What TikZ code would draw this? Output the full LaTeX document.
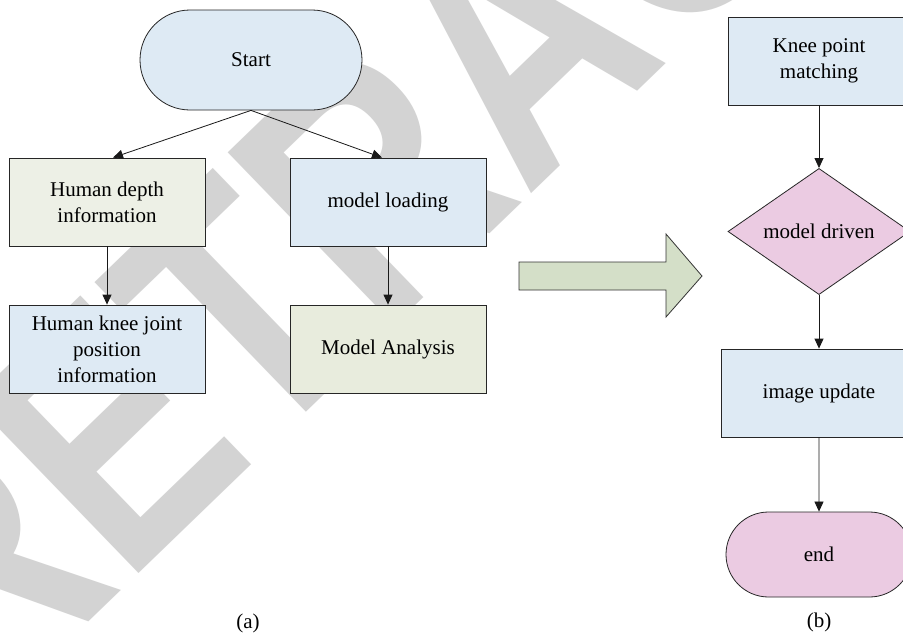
\documentclass[tikz,border=0pt]{standalone}
\usepackage{fontspec}
\setmainfont{Liberation Serif}
\newfontfamily\wmfont{Liberation Sans}
\usetikzlibrary{shapes.misc,shapes.geometric,arrows.meta}
\definecolor{boxblue}{HTML}{DEEAF4}
\definecolor{boxgreen}{HTML}{EDF0E6}
\definecolor{boxgreenb}{HTML}{E8ECDD}
\definecolor{boxpink}{HTML}{EBCBE2}
\definecolor{arrowgreen}{HTML}{D4DFC8}
\definecolor{wmgray}{HTML}{D3D3D3}
\tikzset{
  base/.style={draw=black!85,line width=0.8pt,inner sep=0pt,align=center,
    font=\fontsize{21}{26}\selectfont},
  procbox/.style={base,rectangle,minimum width=196pt,minimum height=88pt},
  termbox/.style={base,rounded rectangle,rounded rectangle arc length=180},
  decbox/.style={base,diamond,minimum width=182pt,minimum height=123pt},
  conn/.style={line width=0.8pt,draw=black!90,-{Triangle[length=10pt,width=9pt]}},
  caption/.style={inner sep=0pt,font=\fontsize{21}{26}\selectfont}
}
\begin{document}
\begin{tikzpicture}[x=1pt,y=-1pt]
\useasboundingbox (0,0) rectangle (903,635);
\clip (0,0) rectangle (903,635);
\fill[white] (0,0) rectangle (903,635);
% watermark
\node[text=wmgray,rotate=44,anchor=base west,inner sep=0pt] (wm) at (-20,727)
  {\scalebox{0.8}[1]{\wmfont\bfseries\fontsize{349}{349}\selectfont RETRACTED}};
% (a)
\node[termbox,fill=boxblue,minimum width=222pt,minimum height=100pt] (start) at (251,60) {Start};
\node[procbox,fill=boxgreen] (hd) at (107,202) {Human depth\\information};
\node[procbox,fill=boxblue] (ml) at (388,202) {model loading};
\node[procbox,fill=boxblue] (hk) at (107,349) {Human knee joint\\position\\information};
\node[procbox,fill=boxgreenb] (ma) at (388,349) {Model Analysis};
\draw[conn] (start.south) -- ([xshift=6pt]hd.north);
\draw[conn] (start.south) -- ([xshift=-6pt]ml.north);
\draw[conn] (hd) -- (hk);
\draw[conn] (ml) -- (ma);
\node[caption] (capa) at (248,623) {(a)};
% big arrow
\draw[draw=black!80,line width=0.8pt,fill=arrowgreen]
  (519,262) -- (666,262) -- (666,234) -- (702,276) -- (666,317) -- (666,290) -- (519,290) -- cycle;
% (b)
\node[procbox,fill=boxblue,minimum width=182pt] (kp) at (819,61) {Knee point\\matching};
\node[decbox,fill=boxpink] (md) at (819,231.5) {model driven};
\node[procbox,fill=boxblue] (iu) at (819,393) {image update};
\node[termbox,fill=boxpink,minimum width=186pt,minimum height=85pt] (end) at (819,554.5) {end};
\draw[conn] (kp) -- (md);
\draw[conn] (md) -- (iu);
\draw[conn] (iu) -- (end);
\node[caption] (capb) at (819,622) {(b)};
\end{tikzpicture}
\end{document}
